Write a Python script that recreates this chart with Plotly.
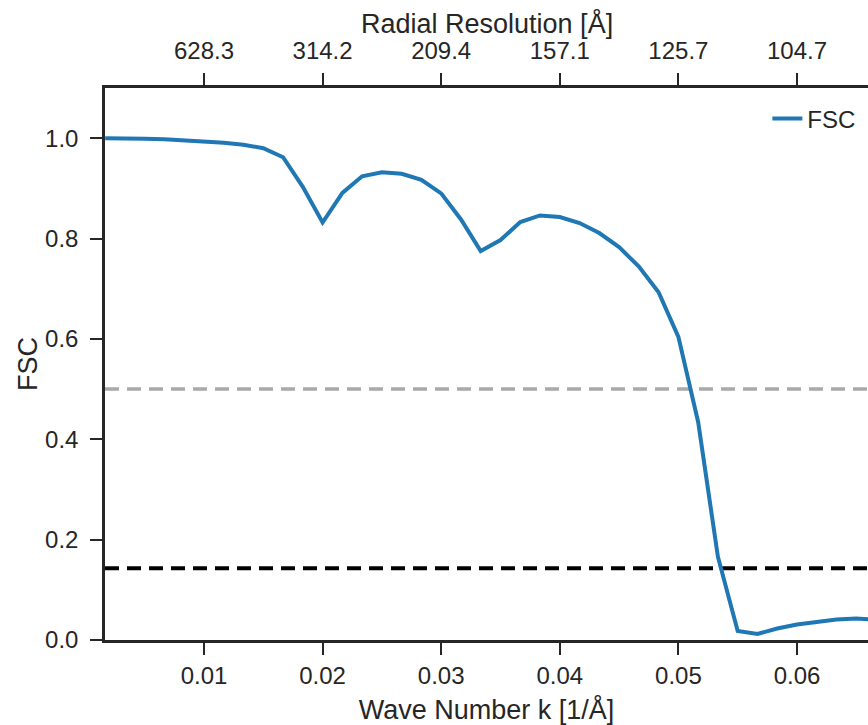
import plotly.graph_objects as go

# ---- data ----
wave_number = [0.00167, 0.00333, 0.00500, 0.00667, 0.00833, 0.01000, 0.01167, 0.01333,
               0.01500, 0.01667, 0.01833, 0.02000, 0.02167, 0.02333, 0.02500, 0.02667,
               0.02833, 0.03000, 0.03167, 0.03333, 0.03500, 0.03667, 0.03833, 0.04000,
               0.04167, 0.04333, 0.04500, 0.04667, 0.04833, 0.05000, 0.05167, 0.05333,
               0.05500, 0.05667, 0.05833, 0.06000, 0.06167, 0.06333, 0.06500, 0.06667]
fsc = [1.000, 1.000, 0.999, 0.998, 0.996, 0.994, 0.991, 0.987,
       0.980, 0.962, 0.903, 0.832, 0.891, 0.924, 0.932, 0.929,
       0.917, 0.890, 0.838, 0.775, 0.797, 0.833, 0.846, 0.843,
       0.831, 0.811, 0.783, 0.744, 0.693, 0.604, 0.434, 0.166,
       0.018, 0.012, 0.023, 0.031, 0.037, 0.041, 0.043, 0.040]
threshold_half = 0.5
threshold_143 = 0.143
bottom_ticks = [0.01, 0.02, 0.03, 0.04, 0.05, 0.06]
top_tick_labels = ["628.3", "314.2", "209.4", "157.1", "125.7", "104.7"]
y_ticks = [0.0, 0.2, 0.4, 0.6, 0.8, 1.0]

x_range = [0.001653, 0.065987]
y_range = [0.0, 1.1]

FONT = "Liberation Sans, Arial, sans-serif"
TXT = "#262626"

fig = go.Figure()
fig.add_trace(go.Scatter(x=x_range, y=[threshold_half, threshold_half], mode="lines",
                         line=dict(color="#a9a9a9", width=3.5, dash="14px,8px"),
                         showlegend=False, hoverinfo="skip"))
fig.add_trace(go.Scatter(x=x_range, y=[threshold_143, threshold_143], mode="lines",
                         line=dict(color="#000000", width=4, dash="14px,8px"),
                         showlegend=False, hoverinfo="skip"))
fig.add_trace(go.Scatter(x=wave_number, y=fsc, mode="lines", name="FSC",
                         line=dict(color="#1f77b4", width=4)))
# invisible trace to carry the top axis
fig.add_trace(go.Scatter(x=wave_number, y=fsc, mode="lines", xaxis="x2",
                         line=dict(color="rgba(0,0,0,0)", width=0),
                         showlegend=False, hoverinfo="skip"))

axis_common = dict(
    showgrid=False, zeroline=False, ticks="outside", ticklen=12, tickwidth=1.5,
    tickcolor=TXT, showline=True, linewidth=2.5, linecolor=TXT,
    tickfont=dict(family=FONT, size=24, color=TXT),
)

fig.update_layout(
    width=868, height=725,
    margin=dict(l=105, r=0, t=88, b=85),
    paper_bgcolor="white", plot_bgcolor="white",
    font=dict(family=FONT, color=TXT),
    xaxis=dict(range=x_range, tickvals=bottom_ticks, tickformat=".2f",
               title=dict(text="Wave Number k [1/Å]", font=dict(family=FONT, size=27, color=TXT),
                          standoff=16),
               ticklabelstandoff=0,
               **axis_common),
    xaxis2=dict(range=x_range, overlaying="x", side="top", anchor="y",
                tickvals=bottom_ticks, ticktext=top_tick_labels,
                ticklabelstandoff=5,
                **axis_common),
    yaxis=dict(range=y_range, tickvals=y_ticks, tickformat=".1f",
               ticklabelstandoff=7,
               **axis_common),
    legend=dict(x=0.99, y=0.985, xanchor="right", yanchor="top",
                font=dict(family=FONT, size=24, color=TXT),
                bgcolor="rgba(0,0,0,0)", borderwidth=0),
    annotations=[
        dict(text="Radial Resolution [Å]", xref="paper", yref="paper",
             x=0.5, y=1 + (88 - 23) / 552, xanchor="center", yanchor="middle",
             showarrow=False, font=dict(family=FONT, size=27, color=TXT)),
        dict(text="FSC", xref="paper", yref="paper", textangle=-90,
             x=(28 - 105) / 763, y=0.5, xanchor="center", yanchor="middle",
             showarrow=False, font=dict(family=FONT, size=27, color=TXT)),
    ],
)

fig.write_html("out.html")
